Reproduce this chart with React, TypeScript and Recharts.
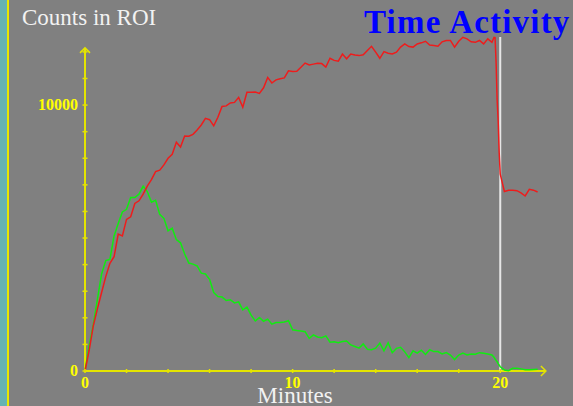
import React from 'react';
import { LineChart, Line, XAxis, YAxis, ReferenceLine, ReferenceDot } from 'recharts';

const times = [
  0, 0.2, 0.4, 0.6, 0.8, 1, 1.2, 1.4, 1.6, 1.8,
  2, 2.2, 2.4, 2.6, 2.8, 3, 3.2, 3.4, 3.6, 3.8,
  4, 4.2, 4.4, 4.6, 4.8, 5, 5.2, 5.4, 5.6, 5.8,
  6, 6.2, 6.4, 6.6, 6.8, 7, 7.2, 7.4, 7.6, 7.8,
  8, 8.2, 8.4, 8.6, 8.8, 9, 9.2, 9.4, 9.6, 9.8,
  10, 10.2, 10.4, 10.6, 10.8, 11, 11.2, 11.4, 11.6, 11.8,
  12, 12.2, 12.4, 12.6, 12.8, 13, 13.2, 13.4, 13.6, 13.8,
  14, 14.2, 14.4, 14.6, 14.8, 15, 15.2, 15.4, 15.6, 15.8,
  16, 16.2, 16.4, 16.6, 16.8, 17, 17.2, 17.4, 17.6, 17.8,
  18, 18.2, 18.4, 18.6, 18.8, 19, 19.2, 19.4, 19.6,
  19.7, 19.75, 19.8, 19.85, 19.9, 19.95, 20,
  20.2, 20.4, 20.6, 20.8, 21, 21.2, 21.4, 21.6, 21.8,
];

const redCounts = [
  0, 780, 1700, 2350, 2950, 3550, 4050, 4300, 5150, 5080,
  5700, 5800, 6300, 6400, 6650, 6950, 7200, 7500, 7550, 7750,
  8000, 8150, 8600, 8420, 8840, 8830, 8900, 9060, 9250, 9500,
  9450, 9220, 9540, 9950, 9970, 10080, 10100, 10290, 9920, 10480,
  10480, 10490, 10440, 10650, 11040, 10830, 10950, 10990, 11020, 11290,
  11260, 11270, 11420, 11580, 11510, 11540, 11570, 11560, 11430, 11760,
  11680, 11650, 11920, 11740, 11920, 11880, 11860, 11890, 12050, 12210,
  11990, 11760, 12010, 11950, 11920, 11990, 12180, 12300, 12200, 12180,
  12300, 12340, 12400, 12260, 12240, 12210, 12380, 12430, 12430, 12180,
  12400, 12550, 12490, 12380, 12360, 12430, 12300, 12490, 12360,
  12550, 12540, 11600, 10200, 9400, 8200, 7400,
  6750, 6800, 6800, 6780, 6700, 6580, 6830, 6800, 6730,
];

const greenCounts = [
  0, 950, 1750, 2700, 3650, 4150, 4200, 5080, 5550, 5980,
  6080, 6520, 6520, 6650, 6950, 6750, 6350, 6420, 5890, 5740,
  5270, 5370, 4940, 4820, 4400, 4060, 4020, 3950, 3680, 3650,
  3450, 2950, 2800, 2780, 2650, 2680, 2560, 2600, 2300, 2400,
  2100, 1880, 2010, 1870, 1950, 1760, 1820, 1820, 1840, 1890,
  1550, 1520, 1500, 1480, 1230, 1360, 1280, 1250, 1320, 1080,
  1100, 1060, 1110, 1130, 980, 920, 860, 1020, 820, 800,
  860, 1050, 760, 1060, 690, 850, 890, 720, 500, 760,
  670, 780, 620, 800, 730, 730, 640, 690, 600, 430,
  600, 670, 600, 640, 630, 690, 670, 640, 600,
  520, 450, 400, 350, 280, 220, 160,
  40, 10, 100, 100, 80, 50, 50, 60, 70,
];

const xTicks = [0, 2, 4, 6, 8, 10, 12, 14, 16, 18, 20];
const xTickLabels = [0, 10, 20];
const yTicks = [0, 1000, 2000, 3000, 4000, 5000, 6000, 7000, 8000, 9000, 10000, 11000, 12000];
const yTickLabels = [0, 10000];
const xAxisEnd = 22.2;
const yAxisEnd = 12150;
const markerTime = 20;

const data = times.map((t, i) => ({ t, red: redCounts[i], green: greenCounts[i] }));

const AXIS = '#e4e400';
const LABEL = '#ffff00';

const XTick = (props: any) => {
  const { x, y, payload } = props;
  const v = payload.value;
  return (
    <g>
      <line x1={x} x2={x} y1={y - 2} y2={y + 2} stroke={AXIS} strokeWidth={1.5} />
      {xTickLabels.includes(v) && (
        <text x={x} y={y + 17} textAnchor="middle" fill={LABEL} fontWeight="bold"
          fontSize={16} fontFamily="Liberation Serif">{v}</text>
      )}
    </g>
  );
};

const YTick = (props: any) => {
  const { x, y, payload } = props;
  const v = payload.value;
  return (
    <g>
      <line x1={x - 2.5} x2={x + 2.5} y1={y} y2={y} stroke={AXIS} strokeWidth={1.5} />
      {yTickLabels.includes(v) && (
        <text x={x - 7} y={y + 5} textAnchor="end" fill={LABEL} fontWeight="bold"
          fontSize={16} fontFamily="Liberation Serif">{v}</text>
      )}
    </g>
  );
};

const ArrowRight = (p: any) => (
  <path d={`M${p.cx - 5},${p.cy - 5} L${p.cx},${p.cy} L${p.cx - 5},${p.cy + 5}`}
    fill="none" stroke={AXIS} strokeWidth={1.5} />
);
const ArrowUp = (p: any) => (
  <path d={`M${p.cx - 5},${p.cy + 5} L${p.cx},${p.cy} L${p.cx + 5},${p.cy + 5}`}
    fill="none" stroke={AXIS} strokeWidth={1.5} />
);

export default function App() {
  return (
    <div style={{ position: 'fixed', left: 0, top: 0, width: 573, height: 406, background: '#808080', overflow: 'hidden' }}>
      <div style={{ position: 'absolute', left: 0, top: 0, width: 7, height: 406, background: '#66b3b3' }} />
      <div style={{ position: 'absolute', left: 7, top: 0, width: 2, height: 406, background: '#e8e800' }} />
      <LineChart width={573} height={406} data={data}
        margin={{ top: 37, right: 25, bottom: 0, left: 0 }}>
        <XAxis dataKey="t" type="number" domain={[0, 22.3]} ticks={xTicks} interval={0}
          height={35} tickSize={0} tickMargin={0} axisLine={false} tickLine={false} tick={<XTick />} />
        <YAxis type="number" domain={[0, 12560]} ticks={yTicks} interval={0}
          width={85} tickSize={0} tickMargin={0} axisLine={false} tickLine={false} tick={<YTick />} />
        <ReferenceLine segment={[{ x: 0, y: 0 }, { x: xAxisEnd, y: 0 }]} stroke={AXIS} strokeWidth={2} />
        <ReferenceLine segment={[{ x: 0, y: 0 }, { x: 0, y: yAxisEnd }]} stroke={AXIS} strokeWidth={2} />
        <ReferenceDot x={xAxisEnd} y={0} r={0} shape={ArrowRight} ifOverflow="visible" />
        <ReferenceDot x={0} y={yAxisEnd} r={0} shape={ArrowUp} ifOverflow="visible" />
        <ReferenceLine x={markerTime} stroke="#e6e6e6" strokeWidth={2} />
        <Line type="linear" dataKey="green" stroke="#10ec10" strokeWidth={1.5} dot={false} isAnimationActive={false} />
        <Line type="linear" dataKey="red" stroke="#ee1c1c" strokeWidth={1.5} dot={false} isAnimationActive={false} />
      </LineChart>
      <svg width={573} height={406} style={{ position: 'absolute', left: 0, top: 0, pointerEvents: 'none' }}>
        <text x={22} y={25} fill="#f2f2f2" fontSize={23} fontFamily="Liberation Serif">Counts in ROI</text>
        <text x={364} y={33} fill="#0000ff" fontSize={33} fontWeight="bold" letterSpacing={1.2} fontFamily="Liberation Serif">Time Activity</text>
        <text x={295} y={403} fill="#f2f2f2" fontSize={23} textAnchor="middle" fontFamily="Liberation Serif">Minutes</text>
      </svg>
    </div>
  );
}
